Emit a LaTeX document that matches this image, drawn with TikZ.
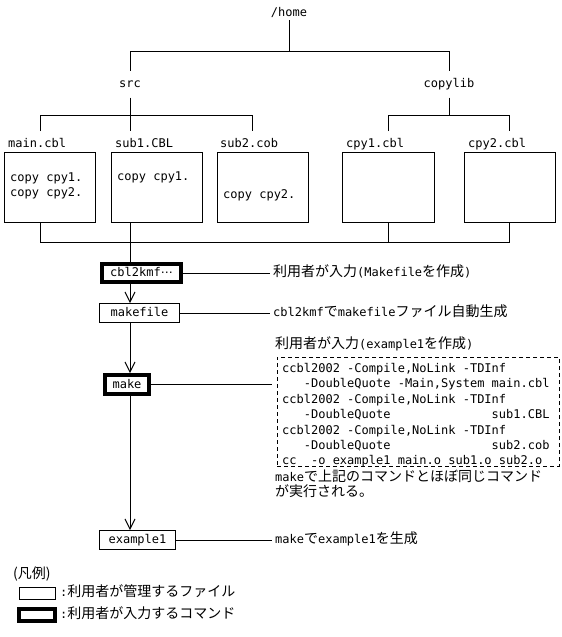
\documentclass[tikz,border=0pt]{standalone}
\usepackage{fontspec}
\setmainfont{DejaVu Sans Mono}
\newfontfamily\jpfont{Noto Sans CJK JP}
\newfontfamily\dvs{DejaVu Sans}
\usetikzlibrary{arrows.meta}
\newcommand\jp[1]{{\jpfont\fontsize{14}{15.5}\selectfont #1}}
\begin{document}
\begin{tikzpicture}[x=1pt,y=-1pt,
  every node/.style={inner sep=0pt, font=\fontsize{12}{15.5}\selectfont},
  lbl/.style={text height=9pt, text depth=2pt},
  ln/.style={line width=1pt},
  filebox/.style={draw, line width=1pt, lbl},
  cmdbox/.style={draw, line width=4pt, lbl},
  arr/.style={line width=1pt, -{Straight Barb[length=10pt,width=10pt]}},
  note/.style={lbl, anchor=west},
  cmdline/.style={lbl, anchor=west}]
\fill[white] (0,0) rectangle (562,637);
\useasboundingbox (0,0) rectangle (562,637);

% tree labels
\node[lbl, outer ysep=1.5pt] (home) at (289,13) {/home};
\node[lbl, outer ysep=8pt] (src) at (130,84) {src};
\node[lbl, outer ysep=8pt] (copylib) at (449,84) {copylib};
\coordinate (hj) at (289,51);
\draw[ln] (home.south) -- (hj);
\draw[ln] (src.north) -- (src.north |- hj) -- (copylib.north |- hj) -- (copylib.north);

% file labels
\node[note] (l1) at (8,144) {main.cbl};
\node[note] (l2) at (115,144) {sub1.CBL};
\node[note] (l3) at (220,144) {sub2.cob};
\node[note] (l4) at (346,144) {cpy1.cbl};
\node[note] (l5) at (468,144) {cpy2.cbl};
\coordinate (t1) at (40,131);
\coordinate (t2) at (130,131);
\coordinate (t3) at (252,131);
\coordinate (t4) at (388,131);
\coordinate (t5) at (509,131);
\coordinate (sj) at (130,115);
\coordinate (cj) at (449,115);
\draw[ln] (src.south) -- (t2);
\draw[ln] (t1) -- (t1 |- sj) -- (t3 |- sj) -- (t3);
\draw[ln] (copylib.south) -- (cj);
\draw[ln] (t4) -- (t4 |- cj) -- (t5 |- cj) -- (t5);

% file boxes
\node[filebox, minimum width=91, minimum height=70] (b1) at (49.5,187) {};
\node[filebox, minimum width=91, minimum height=70] (b2) at (156.5,187) {};
\node[filebox, minimum width=91, minimum height=70] (b3) at (262.5,187) {};
\node[filebox, minimum width=92, minimum height=70] (b4) at (388,187) {};
\node[filebox, minimum width=91, minimum height=70] (b5) at (509.5,187) {};
\node[note] (x1) at (10,178) {copy cpy1.};
\node[note] (x2) at (10,193) {copy cpy2.};
\node[note] (x3) at (117,177) {copy cpy1.};
\node[note] (x4) at (223,195) {copy cpy2.};

% bottom collector
\coordinate (u1) at (40,222);
\coordinate (bj) at (509,242);
\coordinate (tk) at (130,222);
\draw[ln] (u1) -- (u1 |- bj) -- (bj) -- (b5.south -| bj);
\draw[ln] (b4.south) -- (b4.south |- bj);

% flow
\node[cmdbox, minimum width=79, minimum height=18] (cbl) at (141.5,273) {cbl2kmf{\dvs ⋯}};
\node[filebox, minimum width=80, minimum height=19] (mkf) at (139.5,313) {makefile};
\node[cmdbox, minimum width=44, minimum height=19] (mk) at (127,384.5) {make};
\node[filebox, minimum width=76, minimum height=19] (ex) at (137.5,540) {example1};
\draw[ln] (tk) -- (cbl.north -| tk);
\draw[arr] (cbl.south -| tk) -- (mkf.north -| tk);
\draw[arr] (mkf.south -| tk) -- (mk.north -| tk);
\draw[arr] (mk.south -| tk) -- (ex.north -| tk);

% notes
\node[note, inner xsep=3pt] (n1) at (270,273) {\jp{利用者が入力}(Makefile\jp{を作成})};
\node[note, inner xsep=3pt] (n2) at (270,313) {cbl2kmf\jp{で}makefile\jp{ファイル自動生成}};
\node[note] (n3) at (275,345) {\jp{利用者が入力}(example1\jp{を作成})};
\node[note, inner xsep=3pt] (n6) at (272,540) {make\jp{で}example1\jp{を生成}};
\draw[ln] (cbl.east) -- (n1.west);
\draw[ln] (mkf.east) -- (n2.west);
\draw[ln] (ex.east) -- (n6.west);

\node[draw, line width=1pt, dash pattern=on 4pt off 3pt, minimum width=282, minimum height=109] (cmd) at (418,411.5) {};
\draw[ln, shorten >=5pt] (mk.east) -- (mk.east -| cmd.west);
\node[cmdline] (c1) at (282,368.5) {ccbl2002 -Compile,NoLink -TDInf};
\node[cmdline] (c2) at (282,384) {\phantom{xxx}-DoubleQuote -Main,System main.cbl};
\node[cmdline] (c3) at (282,399.5) {ccbl2002 -Compile,NoLink -TDInf};
\node[cmdline] (c4) at (282,415) {\phantom{xxx}-DoubleQuote\phantom{xxxxxxxxxxxxxx}sub1.CBL};
\node[cmdline] (c5) at (282,430.5) {ccbl2002 -Compile,NoLink -TDInf};
\node[cmdline] (c6) at (282,446) {\phantom{xxx}-DoubleQuote\phantom{xxxxxxxxxxxxxx}sub2.cob};
\node[cmdline] (c7) at (282,461) {cc\phantom{xx}-o example1 main.o sub1.o sub2.o};
\node[note] (n4) at (275,478) {make\jp{で上記のコマンドとほぼ同じコマンド}};
\node[note] (n5) at (275,493) {\jp{が実行される。}};

% legend
\node[note] (lg) at (13,575) {\jp{(凡例)}};
\node[draw, line width=1pt, minimum width=36, minimum height=12] (lg1) at (37,593) {};
\node[draw, line width=4pt, minimum width=36, minimum height=12] (lg2) at (37,615) {};
\node[note] (lt1) at (60,593) {:\jp{利用者が管理するファイル}};
\node[note] (lt2) at (60,615) {:\jp{利用者が入力するコマンド}};
\end{tikzpicture}
\end{document}
